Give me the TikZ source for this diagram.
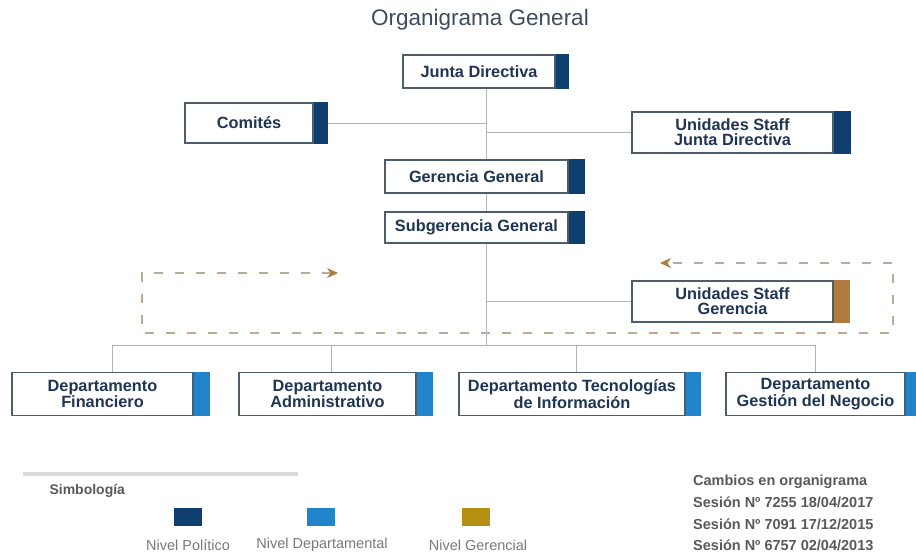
\documentclass[tikz,border=0pt]{standalone}
\usepackage{fontspec}
\setmainfont{Liberation Sans}
\usetikzlibrary{arrows.meta}

\definecolor{politico}{HTML}{0F3F6E}
\definecolor{depto}{HTML}{2285CC}
\definecolor{gerencial}{HTML}{B48F12}
\definecolor{staffg}{HTML}{B07B3E}
\definecolor{boxline}{HTML}{4E5D6C}
\definecolor{boxtext}{HTML}{1F3553}
\definecolor{conn}{HTML}{B4B4B4}
\definecolor{loopc}{HTML}{BBAA96}
\definecolor{arrowc}{HTML}{B07B3E}
\definecolor{titlec}{HTML}{3D4C5E}
\definecolor{legtext}{HTML}{7A7A7A}
\definecolor{notes}{HTML}{5A5A5A}
\definecolor{rule}{HTML}{D9D9D9}

\tikzset{
  unit/.style={draw=boxline, line width=1.2pt, fill=white, inner sep=0pt,
    align=center, text=boxtext, font=\bfseries\fontsize{16.3}{15.2}\selectfont},
  link/.style={draw=conn, line width=1pt},
  loopline/.style={draw=loopc, line width=1.3pt, dash pattern=on 9pt off 12pt},
  swatch/.style={minimum width=28pt, minimum height=18pt, inner sep=0pt},
  legend/.style={text=legtext, font=\fontsize{14.5}{16}\selectfont},
}

\begin{document}
\begin{tikzpicture}[x=1pt, y=-1pt]
\useasboundingbox[fill=white] (0,0) rectangle (916,554);

% title
\node[text=titlec, font=\fontsize{22.5}{26}\selectfont] (title) at (480,20) {Organigrama General};

% trunk and bus coordinates
\coordinate (trunk) at (486,0);
\coordinate (bus) at (486,345);
\coordinate (b1) at (112,345);
\coordinate (b2) at (331,345);
\coordinate (b3) at (576,345);
\coordinate (b4) at (815,345);

% dashed feedback loop around the staff unit
\coordinate (l1) at (338,273);
\coordinate (l2) at (142,273);
\coordinate (l3) at (142,333);
\coordinate (l4) at (893,333);
\coordinate (l5) at (893,263);
\coordinate (l6) at (660,263);
\draw[loopline, {Stealth[color=arrowc, length=11pt, width=10pt]}-{Stealth[color=arrowc, length=11pt, width=10pt]}]
  (l1) -- (l2) -- (l3) -- (l4) -- (l5) -- (l6);

% upper units
\node[unit, minimum width=152, minimum height=33] (jd) at (479,71.5) {Junta Directiva};
\node[unit, minimum width=128, minimum height=40] (com) at (249,123) {Comités};
\node[unit, minimum width=201, minimum height=41] (sjd) at (732.5,132.5) {Unidades Staff\\Junta Directiva};
\node[unit, minimum width=183, minimum height=33] (gg) at (476.5,176.5) {Gerencia General};
\node[unit, minimum width=183, minimum height=31] (sg) at (476.5,227.5) {Subgerencia General};
\node[unit, minimum width=201, minimum height=41] (sgr) at (732.5,301.5) {Unidades Staff\\Gerencia};

% departments
\node[unit, minimum width=181, minimum height=43] (df) at (102.5,394) {Departamento\\Financiero};
\node[unit, minimum width=177, minimum height=43] (da) at (327.5,394) {Departamento\\Administrativo};
\node[unit, minimum width=226, minimum height=43] (dt) at (572,394) {Departamento Tecnologías\\de Información};
\node[unit, minimum width=179, minimum height=43] (dg) at (815.5,394) {Departamento\\Gestión del Negocio};

% connectors
\path[link] (jd.south -| trunk) -- (gg.north -| trunk);
\path[link] (gg.south -| trunk) -- (sg.north -| trunk);
\path[link] (sg.south -| trunk) -- (bus);
\path[link] (com.east) -- (com.east -| trunk);
\path[link] (trunk |- sjd.west) -- (sjd.west);
\path[link] (trunk |- sgr.west) -- (sgr.west);
\path[link] (b1) -- (b4);
\path[link] (b1) -- (b1 |- df.north);
\path[link] (b2) -- (b2 |- da.north);
\path[link] (b3) -- (b3 |- dt.north);
\path[link] (b4) -- (b4 |- dg.north);

% level tabs
\fill[politico] (jd.north east) rectangle ([xshift=13pt]jd.south east);
\fill[politico] (com.north east) rectangle ([xshift=14pt]com.south east);
\fill[politico] (sjd.north east) rectangle ([xshift=17pt]sjd.south east);
\fill[politico] (gg.north east) rectangle ([xshift=16pt]gg.south east);
\fill[politico] (sg.north east) rectangle ([xshift=16pt]sg.south east);
\fill[staffg] (sgr.north east) rectangle ([xshift=16pt]sgr.south east);
\fill[depto] (df.north east) rectangle ([xshift=16pt]df.south east);
\fill[depto] (da.north east) rectangle ([xshift=16pt]da.south east);
\fill[depto] (dt.north east) rectangle ([xshift=15pt]dt.south east);
\fill[depto] (dg.north east) rectangle ([xshift=14pt]dg.south east);

% legend
\coordinate (r1) at (23,474);
\coordinate (r2) at (298,474);
\draw[draw=rule, line width=4pt] (r1) -- (r2);
\node[anchor=west, text=notes, font=\bfseries\fontsize{14}{16}\selectfont] (simb) at (46,491) {Simbología};
\node[swatch, fill=politico] (sw1) at (188,517) {};
\node[swatch, fill=depto] (sw2) at (320.5,517) {};
\node[swatch, fill=gerencial] (sw3) at (476,517) {};
\node[legend] (lb1) at (188,545) {Nivel Político};
\node[legend] (lb2) at (322,545) {Nivel Departamental};
\node[legend] (lb3) at (478,545) {Nivel Gerencial};

% revision notes
\node[anchor=north west, inner sep=0pt, align=left, text=notes, font=\bfseries\fontsize{14.5}{21.7}\selectfont] (changes) at (693,475)
  {Cambios en organigrama\\Sesión Nº 7255 18/04/2017\\Sesión Nº 7091 17/12/2015\\Sesión Nº 6757 02/04/2013};
\end{tikzpicture}
\end{document}
